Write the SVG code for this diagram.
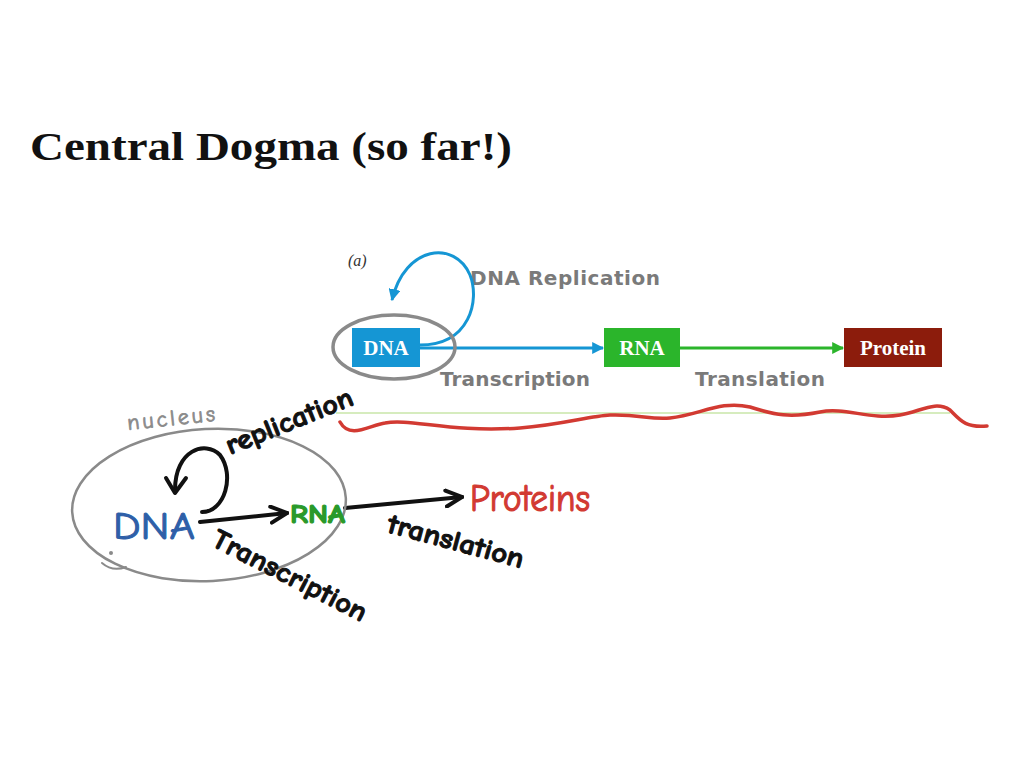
<svg xmlns="http://www.w3.org/2000/svg" width="1024" height="768" viewBox="0 0 1024 768">
<style>
.fig{font-family:"DejaVu Sans","Liberation Sans",sans-serif;font-weight:bold;fill:#7a7a7a;font-size:20px}
.box{font-family:"Liberation Serif",serif;font-weight:bold;fill:#fff;font-size:21px}
.hand{font-family:"Comic Neue","DejaVu Sans","Liberation Sans",sans-serif}
.ink{fill:none;stroke-linecap:round;stroke-linejoin:round}
</style>
<defs>
<marker id="ab" viewBox="0 0 10 10" refX="9" refY="5" markerWidth="4" markerHeight="4" orient="auto"><path d="M0,0 L10,5 L0,10 z" fill="#1596d4"/></marker>
<marker id="ag" viewBox="0 0 10 10" refX="9" refY="5" markerWidth="4" markerHeight="4" orient="auto"><path d="M0,0 L10,5 L0,10 z" fill="#2bb52b"/></marker>
<marker id="ak" viewBox="0 0 10 10" refX="9" refY="5" markerWidth="5" markerHeight="5" orient="auto"><path d="M1,1 L9,5 L1,9" fill="none" stroke="#111" stroke-width="2" stroke-linecap="round"/></marker>
</defs>
<rect width="1024" height="768" fill="#fff"/>
<text x="30" y="160" font-family="Liberation Serif,serif" font-weight="bold" font-size="40" fill="#111" textLength="482" lengthAdjust="spacingAndGlyphs">Central Dogma (so far!)</text>

<g id="figure">
<line x1="336" y1="413" x2="950" y2="413" stroke="#c8e6a8" stroke-width="1.5"/>
<text x="348" y="266" font-family="Liberation Serif,serif" font-style="italic" font-size="16" fill="#333">(a)</text>
<text class="fig" x="470" y="285" textLength="190">DNA Replication</text>
<text class="fig" x="440" y="386" textLength="150">Transcription</text>
<text class="fig" x="695" y="386" textLength="130">Translation</text>
</g>
<g id="connectors">
<path d="M420,345 C470,345 480,300 470,275 C455,240 405,245 392,300" fill="none" stroke="#1596d4" stroke-width="3" marker-end="url(#ab)"/>
<line x1="420" y1="348" x2="603" y2="348" stroke="#1596d4" stroke-width="3" marker-end="url(#ab)"/>
<line x1="680" y1="348" x2="843" y2="348" stroke="#2bb52b" stroke-width="3" marker-end="url(#ag)"/>
<path class="ink" d="M200,522 L287,513" stroke="#111" stroke-width="4" marker-end="url(#ak)"/>
<path class="ink" d="M345,508 L462,497" stroke="#111" stroke-width="4" marker-end="url(#ak)"/>
<path class="ink" d="M202,512 C225,512 235,475 220,455 C205,440 175,450 175,490" stroke="#111" stroke-width="4"/>
<path class="ink" d="M166,478 L175,493 L186,478" stroke="#111" stroke-width="4"/>
</g>
<g id="dna-box"><rect x="352" y="328" width="68" height="39" fill="#1596d4"/><text class="box" x="386" y="355" text-anchor="middle">DNA</text></g>
<g id="rna-box"><rect x="604" y="328" width="76" height="39" fill="#2bb52b"/><text class="box" x="642" y="355" text-anchor="middle">RNA</text></g>
<g id="protein-box"><rect x="844" y="328" width="98" height="39" fill="#8c1c0c"/><text class="box" x="893" y="355" text-anchor="middle">Protein</text></g>
<ellipse cx="394" cy="347" rx="61" ry="32" fill="none" stroke="#8a8a8a" stroke-width="3.5"/>

<path class="ink" d="M340,422 C350,440 370,425 385,423 C410,418 450,433 520,428 C560,425 590,416 610,415 C640,414 650,420 670,418 C700,415 720,400 750,407 C775,415 790,418 820,412 C845,407 870,420 900,415 C920,412 935,400 950,410 C960,420 965,428 987,426" stroke="#d23a32" stroke-width="3.5"/>

<g id="nucleus">
<ellipse cx="209" cy="505" rx="137" ry="76" transform="rotate(-3 209 505)" fill="none" stroke="#8a8a8a" stroke-width="2.5"/>
<text class="hand" x="128" y="430" fill="#8a8a8a" stroke="#8a8a8a" stroke-width="0.8" style="font-size:22px" textLength="88" transform="rotate(-6 128 430)">nucleus</text>
<circle cx="111" cy="553" r="2" fill="#8a8a8a"/>
<path class="ink" d="M102,563 C110,570 118,570 126,567" stroke="#8a8a8a" stroke-width="2"/>
</g>
<g id="hand-dna"><text class="hand" x="113" y="539" fill="#2e5fa8" stroke="#2e5fa8" stroke-width="1" style="font-size:38px" textLength="82" lengthAdjust="spacingAndGlyphs">DNA</text></g>
<g id="hand-rna"><text class="hand" x="290" y="523" fill="#2a9a2a" stroke="#2a9a2a" stroke-width="1.2" style="font-size:27px;font-weight:bold" textLength="55" lengthAdjust="spacingAndGlyphs">RNA</text></g>
<g id="hand-proteins"><text class="hand" x="470" y="511" fill="#d23a32" stroke="#d23a32" stroke-width="1.2" style="font-size:38px" textLength="120" lengthAdjust="spacingAndGlyphs">Proteins</text></g>
<text class="hand" x="230" y="455" fill="#111" stroke="#111" stroke-width="1" style="font-size:28px;font-weight:bold" textLength="135" lengthAdjust="spacingAndGlyphs" transform="rotate(-22 230 455)">replication</text>
<text class="hand" x="210" y="545" fill="#111" stroke="#111" stroke-width="1" style="font-size:28px;font-weight:bold" textLength="170" lengthAdjust="spacingAndGlyphs" transform="rotate(27 210 545)">Transcription</text>
<text class="hand" x="386" y="532" fill="#111" stroke="#111" stroke-width="1" style="font-size:28px;font-weight:bold" textLength="140" lengthAdjust="spacingAndGlyphs" transform="rotate(15 386 532)">translation</text>
</svg>
